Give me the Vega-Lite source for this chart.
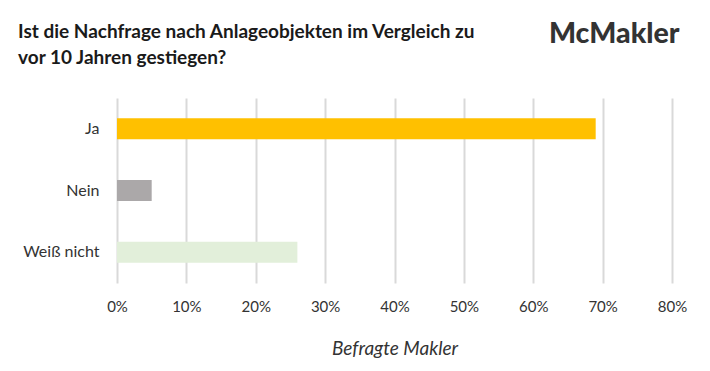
{
  "$schema": "https://vega.github.io/schema/vega-lite/v6.json",
  "autosize": "none",
  "width": 555,
  "height": 185,
  "padding": {"left": 117, "top": 98, "right": 38, "bottom": 88},
  "background": "white",
  "config": {"view": {"stroke": null}, "font": "Lato"},
  "title": {
    "text": ["Ist die Nachfrage nach Anlageobjekten im Vergleich zu", "vor 10 Jahren gestiegen?"],
    "anchor": "start",
    "frame": "group",
    "dx": -99,
    "offset": -49,
    "fontSize": 19,
    "fontWeight": "bold",
    "lineHeight": 26,
    "color": "#1a1a1a",
    "font": "Lato"
  },
  "data": {
    "values": [
      {"antwort": "Ja", "anteil": 0.69},
      {"antwort": "Nein", "anteil": 0.05},
      {"antwort": "Weiß nicht", "anteil": 0.26}
    ]
  },
  "layer": [
    {
      "mark": {"type": "bar"},
      "encoding": {
        "y": {
          "field": "antwort", "type": "nominal", "sort": null,
          "scale": {"paddingInner": 0.66, "paddingOuter": 0.33},
          "axis": {"title": null, "ticks": false, "domain": false, "labelPadding": 18, "labelFontSize": 16, "labelColor": "#333333", "labelFont": "Lato"}
        },
        "x": {
          "field": "anteil", "type": "quantitative",
          "scale": {"domain": [0, 0.8], "nice": false},
          "axis": {
            "format": "%", "values": [0, 0.1, 0.2, 0.3, 0.4, 0.5, 0.6, 0.7, 0.8],
            "labelFlush": false,
            "title": "Befragte Makler", "titleFontStyle": "italic", "titleFontWeight": "normal",
            "titleFontSize": 19, "titleColor": "#333333", "titlePadding": 25,
            "labelFontSize": 15, "labelColor": "#333333", "labelPadding": 16,
            "ticks": false, "domain": false,
            "grid": true, "gridColor": "#D9D9D9", "gridWidth": 2
          }
        },
        "color": {
          "field": "antwort", "type": "nominal", "legend": null,
          "scale": {"domain": ["Ja", "Nein", "Weiß nicht"], "range": ["#FFC000", "#ABA8A9", "#E2EFDA"]}
        }
      }
    },
    {
      "mark": {"type": "bar", "opacity": 0},
      "encoding": {
        "y": {"field": "antwort", "type": "nominal", "sort": null},
        "x": {
          "field": "anteil", "type": "quantitative",
          "axis": {
            "orient": "top", "labels": false, "ticks": false, "domain": false, "grid": false,
            "title": "McMakler", "titleX": 562, "titleAlign": "right", "titleFontSize": 28.5, "titleFontWeight": 900,
            "titleColor": "#333333", "titleFont": "Lato", "titleBaseline": "alphabetic", "titlePadding": 56
          }
        }
      }
    }
  ],
  "resolve": {"axis": {"x": "independent"}}
}
